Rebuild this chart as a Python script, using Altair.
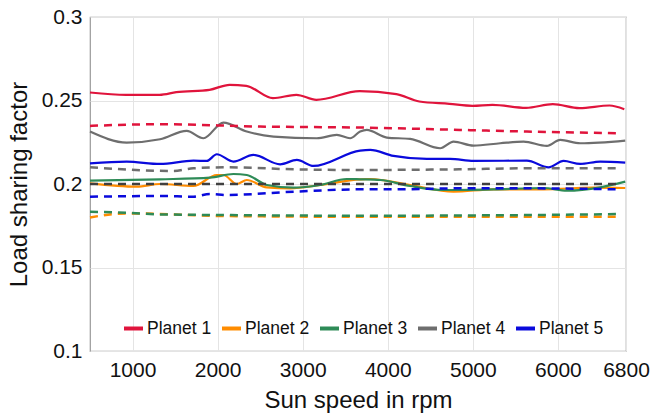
import altair as alt
import pandas as pd

planets = ["Planet 1", "Planet 2", "Planet 3", "Planet 4", "Planet 5"]
colors = ["#E0143C", "#FF8C00", "#2E8B57", "#6E6E6E", "#0A0ADC"]

# Solid curves (dynamic load sharing)
p1_x = [500, 925, 1318, 1514, 1905, 2141, 2337, 2650, 2925, 3160, 3670, 4101, 4371, 4724, 4995, 5230, 5626, 5940, 6253, 6606, 6780]
p1_y = [0.2548, 0.2534, 0.2534, 0.2550, 0.2564, 0.2594, 0.2588, 0.2514, 0.2534, 0.2504, 0.2556, 0.2538, 0.2494, 0.2480, 0.2468, 0.2474, 0.2456, 0.2478, 0.2454, 0.2470, 0.2448]

p2_x = [500, 1049, 1324, 1716, 1990, 2068, 2225, 2343, 2578, 2853, 3205, 3675, 3793, 4263, 4773, 5243, 5831, 6419, 6791]
p2_y = [0.2004, 0.1984, 0.2000, 0.1988, 0.2054, 0.2054, 0.2000, 0.2024, 0.1980, 0.1974, 0.1994, 0.2028, 0.2030, 0.1994, 0.1954, 0.1968, 0.1968, 0.1978, 0.1976]

p3_x = [500, 1324, 1912, 2186, 2343, 2578, 2892, 3205, 3518, 3675, 3910, 4263, 4655, 5243, 5831, 6105, 6497, 6791]
p3_y = [0.2020, 0.2028, 0.2038, 0.2060, 0.2054, 0.1994, 0.1978, 0.1994, 0.2030, 0.2028, 0.2024, 0.1988, 0.1964, 0.1968, 0.1976, 0.1960, 0.1980, 0.2014]

p4_x = [500, 931, 1324, 1637, 1833, 2068, 2343, 2657, 3166, 3401, 3558, 3675, 3753, 3989, 4263, 4616, 4773, 5008, 5321, 5596, 5870, 6027, 6262, 6791]
p4_y = [0.2314, 0.2248, 0.2268, 0.2318, 0.2274, 0.2368, 0.2314, 0.2284, 0.2274, 0.2294, 0.2274, 0.2314, 0.2324, 0.2278, 0.2270, 0.2214, 0.2254, 0.2230, 0.2244, 0.2254, 0.2228, 0.2264, 0.2244, 0.2260]

p5_x = [500, 931, 1324, 1716, 1873, 1990, 2186, 2421, 2735, 2931, 3127, 3675, 3793, 4067, 4459, 4733, 5008, 5635, 5890, 6066, 6262, 6497, 6791]
p5_y = [0.2124, 0.2134, 0.2120, 0.2140, 0.2138, 0.2178, 0.2134, 0.2174, 0.2118, 0.2144, 0.2108, 0.2200, 0.2204, 0.2168, 0.2150, 0.2150, 0.2138, 0.2140, 0.2100, 0.2138, 0.2120, 0.2134, 0.2128]

# Dashed curves (static load sharing)
d1_x = [500, 1324, 2499, 3675, 4851, 5635, 6733]
d1_y = [0.2348, 0.2358, 0.2344, 0.2338, 0.2324, 0.2314, 0.2304]
d2_x = [500, 931, 2108, 3675, 5635, 6733]
d2_y = [0.1800, 0.1824, 0.1808, 0.1804, 0.1804, 0.1804]
d3_x = [500, 931, 1324, 2108, 3675, 5635, 6733]
d3_y = [0.1834, 0.1828, 0.1818, 0.1814, 0.1810, 0.1814, 0.1820]
d4_x = [500, 1480, 1715, 2108, 2892, 3675, 4851, 5635, 6733]
d4_y = [0.2100, 0.2078, 0.2094, 0.2100, 0.2088, 0.2084, 0.2088, 0.2094, 0.2094]
d5_x = [500, 1324, 1716, 1912, 2108, 2892, 3675, 4067, 4851, 5635, 6733]
d5_y = [0.1924, 0.1928, 0.1924, 0.1940, 0.1934, 0.1954, 0.1968, 0.1968, 0.1974, 0.1974, 0.1968]

ideal_x = [500, 6733]
ideal_y = [0.2, 0.2]

x_ticks = [1000, 2000, 3000, 4000, 5000, 6000, 6800]
y_ticks = [0.1, 0.15, 0.2, 0.25, 0.3]


def frame(xs_list, ys_list):
    rows = []
    for name, xs, ys in zip(planets, xs_list, ys_list):
        for xv, yv in zip(xs, ys):
            rows.append({"speed": xv, "lsf": yv, "planet": name})
    return pd.DataFrame(rows)


solid_df = frame([p1_x, p2_x, p3_x, p4_x, p5_x], [p1_y, p2_y, p3_y, p4_y, p5_y])
dashed_df = frame([d1_x, d2_x, d3_x, d4_x, d5_x], [d1_y, d2_y, d3_y, d4_y, d5_y])
ideal_df = pd.DataFrame({"speed": ideal_x, "lsf": ideal_y})

FONT = "Liberation Sans"

x_enc = alt.X("speed:Q", scale=alt.Scale(domain=[500, 6800], nice=False, zero=False),
              axis=alt.Axis(values=x_ticks, title="Sun speed in rpm", format="d",
                            labelOverlap=False, labelFlush=False))
y_enc = alt.Y("lsf:Q", scale=alt.Scale(domain=[0.1, 0.3], nice=False, zero=False),
              axis=alt.Axis(values=y_ticks, title="Load sharing factor", format=".2~f",
                            labelOverlap=False, labelFlush=False))

color_scale = alt.Scale(domain=planets, range=colors)

solid = alt.Chart(solid_df).mark_line(strokeWidth=2.2, interpolate="monotone").encode(
    x=x_enc, y=y_enc,
    color=alt.Color("planet:N", scale=color_scale, sort=planets,
                    legend=alt.Legend(title=None, orient="none", legendX=32, legendY=300,
                                      direction="horizontal", columns=5,
                                      symbolType="stroke", symbolStrokeWidth=4,
                                      symbolSize=361, labelFontSize=17.5, labelFont=FONT,
                                      columnPadding=2, labelOffset=2, symbolOffset=0))
)

dashed = alt.Chart(dashed_df).mark_line(strokeWidth=2.5, strokeDash=[8, 6], interpolate="monotone").encode(
    x="speed:Q", y="lsf:Q",
    color=alt.Color("planet:N", scale=color_scale, legend=None)
)

ideal = alt.Chart(ideal_df).mark_line(strokeWidth=2.5, strokeDash=[8, 6], color="#404040").encode(
    x="speed:Q", y="lsf:Q"
)

chart = alt.layer(solid, dashed, ideal).properties(
    width=536, height=334,
    autosize=alt.AutoSizeParams(type="none"),
    padding={"left": 90, "top": 17, "right": 36, "bottom": 68},
).configure_view(
    stroke="#9a9a9a", strokeWidth=1.2
).configure_axis(
    labelFont=FONT, titleFont=FONT, labelFontSize=21, titleFontSize=24,
    titleFontWeight="normal", labelColor="#111", titleColor="#111",
    grid=True, gridColor="#e4e4e4", gridWidth=1, domain=False, ticks=False,
    labelPadding=8,
).configure_axisY(
    titlePadding=10
).configure_axisX(
    titlePadding=8
).configure_legend(
    labelColor="#111"
)

chart.save("out.html", embed_options={"renderer": "svg", "actions": False})
